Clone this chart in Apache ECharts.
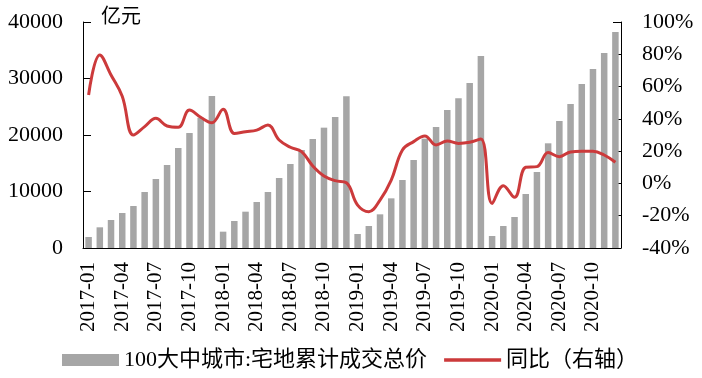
<!DOCTYPE html>
<html>
<head>
<meta charset="utf-8">
<script src="https://cdn.jsdelivr.net/npm/echarts@6/dist/echarts.min.js"></script>
<style>
  html, body { margin: 0; padding: 0; background: #fff; }
  #main { width: 702px; height: 378px; }
</style>
</head>
<body>
<div id="main"></div>
<script>
const years = ['2017', '2018', '2019', '2020'];
const months = ['01', '02', '03', '04', '05', '06', '07', '08', '09', '10', '11', '12'];
const categories = [];
years.forEach(y => months.forEach(m => categories.push(y + '-' + m)));

// 100大中城市:宅地累计成交总价 (亿元)
const totalValue = [
  1950, 3660, 4960, 6200, 7430, 9910, 12210, 14690, 17700, 20350, 23070, 26900,
  2890, 4780, 6430, 8140, 9910, 12390, 14870, 17350, 19290, 21300, 23190, 26850,
  2480, 3890, 5960, 8790, 12040, 15580, 19350, 21420, 24430, 26490, 29200, 33980,
  2120, 3890, 5490, 9560, 13450, 18530, 22480, 25490, 29030, 31680, 34510, 38230
];

// 同比 (%)
const yoy = [
  54.8, 79.6, 67.2, 54, 30, 35.2, 40.3, 35.6, 34.8, 45.5, 41, 37.6,
  45.9, 31, 32, 33, 36.2, 26.9, 22.4, 19.7, 10.8, 4.6, 1.7, 0.4,
  -13.4, -17.5, -10.3, 2.1, 20.7, 25.9, 29.4, 23.8, 26.3, 24.8, 25.5, 27.5,
  -12.4, -1.4, -8.6, 10, 10.4, 19.1, 16.6, 19.5, 19.9, 19.9, 17.6, 13.1
];

const font = "'Liberation Serif', 'Times New Roman', 'Noto Sans CJK SC', serif";
const red = '#cc3a3b';

const chart = echarts.init(document.getElementById('main'));

const option = {
  animation: false,
  textStyle: { fontFamily: font, color: '#000' },
  title: {
    text: '亿元',
    left: 96,
    top: 3,
    textStyle: { fontFamily: font, fontSize: 20, fontWeight: 'normal', color: '#000' }
  },
  legend: {
    left: 57,
    top: 344,
    itemWidth: 57,
    itemHeight: 12,
    itemGap: 17,
    textStyle: { fontFamily: font, fontSize: 22, color: '#000' },
    data: [
      { name: '100大中城市:宅地累计成交总价', icon: 'rect' },
      {
        name: '同比（右轴）',
        // thin bar in the middle of the icon box
        icon: 'path://M0,0L57,0M0,4.3L57,4.3L57,7.7L0,7.7ZM0,12L57,12',
        itemStyle: { color: red }
      }
    ]
  },
  grid: { left: 83, right: 81, top: 22, bottom: 130 },
  xAxis: {
    type: 'category',
    data: categories,
    axisLine: { lineStyle: { color: '#000', width: 1 } },
    axisTick: { interval: 2, length: 7, lineStyle: { color: '#000' } },
    axisLabel: { interval: 2, rotate: 90, margin: 14, fontSize: 21, color: '#000', fontFamily: font }
  },
  yAxis: [
    {
      type: 'value',
      min: 0,
      max: 40000,
      interval: 10000,
      axisLine: { show: true, lineStyle: { color: '#000', width: 1 } },
      axisTick: { show: true, inside: true, length: 8, lineStyle: { color: '#000' } },
      axisLabel: {
        margin: 20, fontSize: 22, color: '#000', fontFamily: font,
        formatter: v => String(v)
      },
      splitLine: { show: false }
    },
    {
      type: 'value',
      min: -40,
      max: 100,
      interval: 20,
      axisLine: { show: true, lineStyle: { color: '#000', width: 1 } },
      axisTick: { show: true, inside: true, length: 8, lineStyle: { color: '#000' } },
      axisLabel: { margin: 21, fontSize: 22, color: '#000', fontFamily: font, formatter: '{value}%' },
      splitLine: { show: false }
    }
  ],
  series: [
    {
      name: '100大中城市:宅地累计成交总价',
      type: 'bar',
      data: totalValue,
      barWidth: '58%',
      itemStyle: { color: '#a6a6a6' }
    },
    {
      name: '同比（右轴）',
      type: 'line',
      yAxisIndex: 1,
      data: yoy,
      smooth: 0.4,
      symbol: 'none',
      lineStyle: { color: red, width: 3 },
      itemStyle: { color: red },
      z: 5
    }
  ]
};

chart.setOption(option);
</script>
</body>
</html>
